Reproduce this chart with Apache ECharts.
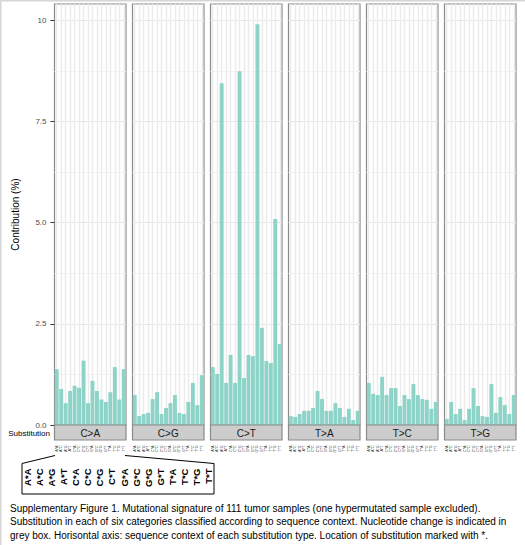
<!DOCTYPE html>
<html>
<head>
<meta charset="utf-8">
<script src="https://cdn.jsdelivr.net/npm/echarts@6/dist/echarts.min.js"></script>
<style type="text/css">
	html, body{
		margin: 0;
		padding: 0;
		background: #fff;
	}
	#chart_box{
		width: 525px;
		height: 545px;
	}
</style>
</head>
<body>
<div id="chart_box"></div>

<script type="text/javascript">
// sequence contexts (x categories), same for every panel
var contexts = ['A*A','A*C','A*G','A*T','C*A','C*C','C*G','C*T','G*A','G*C','G*G','G*T','T*A','T*C','T*G','T*T'];
var substitutions = ['C>A','C>G','C>T','T>A','T>C','T>G'];

// contribution (%) per context
var valuesCA = [1.38,0.89,0.54,0.84,0.97,0.92,1.59,0.54,1.09,0.84,0.63,0.57,0.81,1.43,0.63,1.38];
var valuesCG = [0.74,0.22,0.27,0.30,0.64,0.81,0.27,0.42,0.54,0.74,0.30,0.27,0.57,1.04,0.49,1.23];
var valuesCT = [1.43,1.26,8.44,1.04,1.73,1.04,8.74,1.16,1.73,1.70,9.90,2.40,1.58,1.53,5.09,2.00];
var valuesTA = [0.22,0.20,0.27,0.35,0.35,0.42,0.84,0.64,0.35,0.35,0.54,0.42,0.20,0.40,0.12,0.35];
var valuesTC = [1.04,0.77,0.74,1.19,0.74,0.91,0.91,0.47,0.74,0.64,1.01,0.74,0.64,0.62,0.40,0.57];
var valuesTG = [0.15,0.57,0.27,0.40,0.12,0.40,0.91,0.47,0.22,0.20,1.01,0.30,0.69,0.49,0.27,0.74];

var yTicks = [0, 2.5, 5, 7.5, 10];

var captionLines = [
	'Supplementary Figure 1. Mutational signature of 111 tumor samples (one hypermutated sample excluded).',
	'Substitution in each of six categories classified according to sequence context. Nucleotide change is indicated in',
	'grey box. Horisontal axis: sequence context of each substitution type. Location of substitution marked with *.'
];

var panelValues = [valuesCA, valuesCG, valuesCT, valuesTA, valuesTC, valuesTG];

// layout
var panelLeft = 54.5, panelStep = 78, panelWidth = 71.5;
var panelTop = 4, panelBottom = 425, stripHeight = 15;
var font = 'Liberation Sans, Arial, sans-serif';

var grids = [], xAxes = [], yAxes = [], series = [], graphics = [];

panelValues.forEach(function(vals, i) {
	var left = panelLeft + panelStep * i;
	grids.push({
		left: left,
		top: panelTop,
		width: panelWidth,
		height: panelBottom - panelTop,
		show: true,
		backgroundColor: '#fff',
		borderColor: '#8a8a8a',
		borderWidth: 1.2
	});
	xAxes.push({
		type: 'category',
		gridIndex: i,
		data: contexts,
		axisLine: {show: false},
		axisTick: {show: false},
		axisLabel: {
			interval: 0,
			rotate: 90,
			margin: 20.5,
			fontSize: 3.6,
			color: '#333',
			fontFamily: font
		},
		splitLine: {
			show: true,
			alignWithLabel: true,
			lineStyle: {color: '#ebebeb', width: 1.4}
		}
	});
	yAxes.push({
		type: 'value',
		gridIndex: i,
		min: 0,
		max: 10.4,
		interval: 2.5,
		name: i === 0 ? 'Contribution (%)' : '',
		nameLocation: 'middle',
		nameRotate: 90,
		nameGap: 34,
		nameTextStyle: {fontSize: 10, color: '#000', fontFamily: font},
		axisLine: {show: false},
		axisTick: {
			show: i === 0,
			length: 4,
			customValues: yTicks,
			lineStyle: {color: '#333'}
		},
		axisLabel: {
			show: i === 0,
			margin: 8,
			fontSize: 8,
			color: '#4d4d4d',
			fontFamily: font,
			customValues: yTicks,
			formatter: function(v) { return v === 10 ? '10' : v.toFixed(1); }
		},
		splitLine: {show: true, lineStyle: {color: '#e6e6e6', width: 1}},
		minorTick: {show: false, splitNumber: 2},
		minorSplitLine: {show: true, lineStyle: {color: '#f3f3f3', width: 1}}
	});
	series.push({
		type: 'bar',
		xAxisIndex: i,
		yAxisIndex: i,
		data: vals,
		barCategoryGap: '12%',
		itemStyle: {color: '#8dd3c7'},
		silent: true
	});
	// grey strip with substitution type
	graphics.push({
		type: 'rect',
		shape: {x: left, y: panelBottom, width: panelWidth, height: stripHeight},
		style: {fill: '#cccccc', stroke: '#8a8a8a', lineWidth: 1.2},
		z: 10
	});
	graphics.push({
		type: 'text',
		x: left + panelWidth / 2,
		y: panelBottom + stripHeight / 2 + 0.5,
		style: {
			text: substitutions[i],
			fill: '#1a1a1a',
			font: '10px ' + font,
			align: 'center',
			verticalAlign: 'middle'
		},
		z: 11
	});
});

// enlarged context labels in the call-out box
grids.push({left: 21, top: 460, width: 194, height: 4, show: false});
xAxes.push({
	type: 'category',
	gridIndex: 6,
	data: contexts,
	axisLine: {show: false},
	axisTick: {show: false},
	axisLabel: {
		interval: 0,
		rotate: 90,
		margin: 4.5,
		fontSize: 9.5,
		fontWeight: 'bold',
		color: '#000',
		fontFamily: font
	},
	splitLine: {show: false}
});
yAxes.push({type: 'value', gridIndex: 6, show: false});

graphics.push({
	type: 'polyline',
	shape: {points: [[55, 455.5], [22, 463.5], [22, 494], [214, 494], [214, 463.5], [125, 455.5]]},
	style: {stroke: '#000', lineWidth: 1, fill: null}
});
graphics.push({
	type: 'text',
	x: 50,
	y: 433,
	style: {text: 'Substitution', fill: '#000', font: '8px ' + font, align: 'right', verticalAlign: 'middle'}
});
captionLines.forEach(function(line, k) {
	graphics.push({
		type: 'text',
		x: 10,
		y: 508.5 + k * 13.3,
		style: {text: line, fill: '#000', font: '10px ' + font, align: 'left', verticalAlign: 'middle'}
	});
});
// page frame
graphics.push({type: 'rect', shape: {x: 0, y: 0, width: 525, height: 1.5}, style: {fill: '#d6d6d6'}});
graphics.push({type: 'rect', shape: {x: 0, y: 0, width: 1.5, height: 545}, style: {fill: '#d6d6d6'}});

var myChart = echarts.init(document.getElementById('chart_box'), null, {renderer: 'svg'});
myChart.setOption({
	animation: false,
	backgroundColor: '#fff',
	grid: grids,
	xAxis: xAxes,
	yAxis: yAxes,
	series: series,
	graphic: graphics
});
</script>
</body>
</html>
